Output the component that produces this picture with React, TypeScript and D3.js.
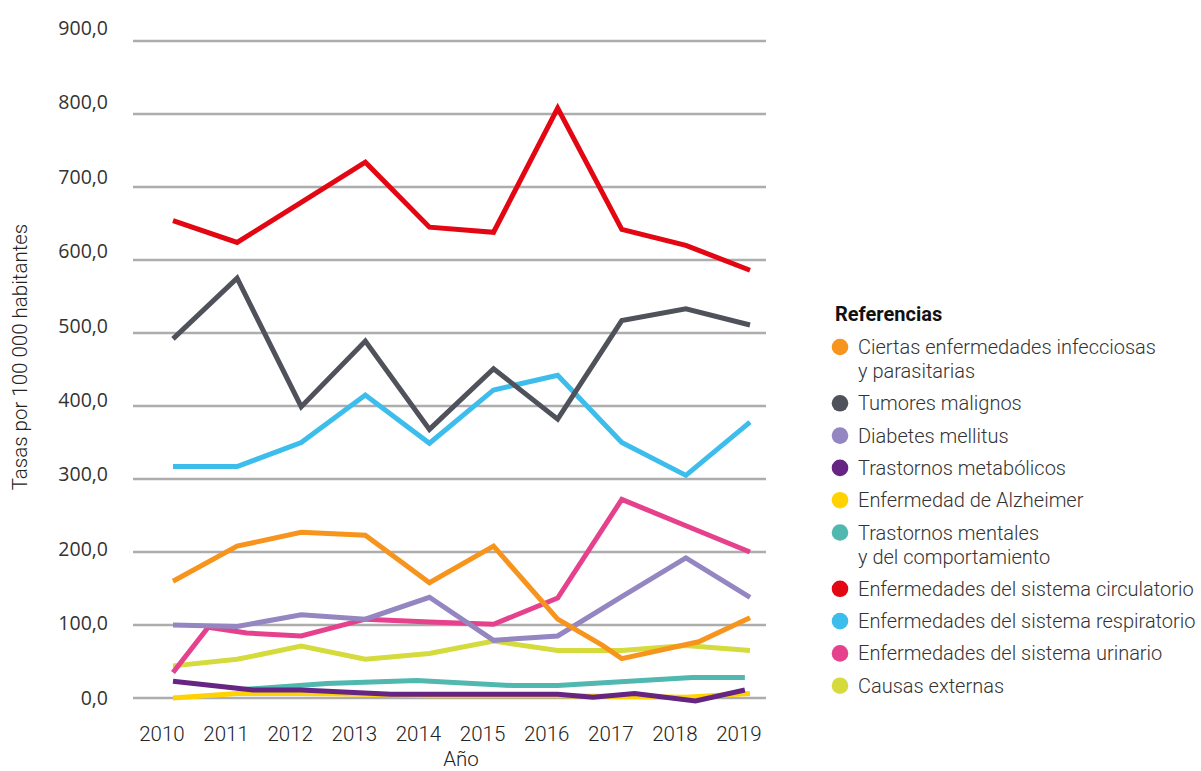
import React from "react";
import * as d3 from "d3";

const years = [2010, 2011, 2012, 2013, 2014, 2015, 2016, 2017, 2018, 2019];
const yTicks = [0, 100, 200, 300, 400, 500, 600, 700, 800, 900];

// Series (x = year position as drawn, v = rate per 100 000)
const infecciosasX = [2010, 2011, 2012, 2013, 2014, 2015, 2016, 2016.7, 2017, 2018.2, 2019];
const infecciosasV = [160, 208, 227, 223, 158, 208, 108, 72, 54, 77, 110];
const tumoresV = [492, 575, 399, 489, 368, 451, 382, 517, 533, 511];
const diabetesV = [100, 98, 114, 108, 138, 79, 85, 139, 192, 138];
const metabolicosX = [2010, 2011.25, 2012, 2013.4, 2016, 2016.55, 2017.2, 2018.15, 2018.92];
const metabolicosV = [23, 11, 11, 5, 5, 1, 6, -4, 11];
const alzheimerV = [0, 6, 6, 5, 3, 3, 3, 2, 1, 6];
const mentalesX = [2011, 2012.4, 2013.8, 2015.3, 2016, 2018.1, 2018.92];
const mentalesV = [11, 20, 24, 17, 17, 28, 28];
const circulatorioV = [654, 624, 679, 734, 645, 638, 808, 642, 620, 586];
const respiratorioV = [317, 317, 350, 415, 349, 422, 442, 350, 305, 378];
const urinarioX = [2010, 2010.55, 2011.15, 2012, 2013, 2014, 2015, 2016, 2017, 2018, 2019];
const urinarioV = [35, 97, 89, 85, 108, 104, 101, 137, 272, 236, 200];
const externasV = [44, 53, 71, 53, 61, 78, 65, 65, 72, 65];

type Series = { label: string[]; color: string; xs: number[]; vs: number[] };

const series: Series[] = [
  { label: ["Ciertas enfermedades infecciosas", "y parasitarias"], color: "#F7941D", xs: infecciosasX, vs: infecciosasV },
  { label: ["Tumores malignos"], color: "#4F525B", xs: years, vs: tumoresV },
  { label: ["Diabetes mellitus"], color: "#9486C1", xs: years, vs: diabetesV },
  { label: ["Trastornos metabólicos"], color: "#662483", xs: metabolicosX, vs: metabolicosV },
  { label: ["Enfermedad de Alzheimer"], color: "#FFD200", xs: years, vs: alzheimerV },
  { label: ["Trastornos mentales", "y del comportamiento"], color: "#51B8AF", xs: mentalesX, vs: mentalesV },
  { label: ["Enfermedades del sistema circulatorio"], color: "#E30613", xs: years, vs: circulatorioV },
  { label: ["Enfermedades del sistema respiratorio"], color: "#3DBDEC", xs: years, vs: respiratorioV },
  { label: ["Enfermedades del sistema urinario"], color: "#E6418D", xs: urinarioX, vs: urinarioV },
  { label: ["Causas externas"], color: "#D5DB3D", xs: years, vs: externasV },
];

export default function App() {
  const W = 1201, H = 771;
  const x = d3.scaleLinear().domain([2010, 2019]).range([173, 750]);
  const y = d3.scaleLinear().domain([0, 900]).range([698, 41]);
  const line = d3.line<[number, number]>().x((d) => x(d[0])).y((d) => y(d[1]));
  const drawOrder = [...series].reverse();

  // legend layout
  const legendX = 840;
  let ly = 347;
  const legendRows: { s: Series; y: number }[] = [];
  series.forEach((s) => {
    legendRows.push({ s, y: ly });
    ly += 32.3 + (s.label.length - 1) * 24;
  });

  return (
    <svg width={W} height={H} style={{ position: "absolute", left: 0, top: 0, background: "#fff" }}>
      <g>
        {yTicks.map((t) => (
          <line key={t} x1={133} x2={766} y1={y(t)} y2={y(t)} stroke="#ADADAD" strokeWidth={2.5} />
        ))}
        {yTicks.map((t) => (
          <text
            key={"l" + t}
            x={108}
            y={y(t) - (t / 900) * 13}
            dy="0.35em"
            textAnchor="end"
            fontFamily="'Open Sans', sans-serif"
            fontSize={19.5}
            fill="#333"
          >
            {d3.format(".1f")(t).replace(".", ",")}
          </text>
        ))}
      </g>
      <g fill="none" strokeWidth={5} strokeLinejoin="miter" strokeLinecap="butt">
        {drawOrder.map((s, i) => (
          <path key={i} d={line(s.xs.map((xx, j) => [xx, s.vs[j]] as [number, number])) || ""} stroke={s.color} />
        ))}
      </g>
      <g fontFamily="Roboto, sans-serif" fontSize={20.5} fill="#222" fontWeight={300}>
        {years.map((yr) => (
          <text key={yr} x={x(yr) - 11} y={741} textAnchor="middle">
            {yr}
          </text>
        ))}
        <text x={461} y={766} textAnchor="middle">Año</text>
        <text transform="translate(27,357) rotate(-90)" textAnchor="middle">
          Tasas por 100 000 habitantes
        </text>
      </g>
      <g fontFamily="Roboto, sans-serif">
        <text x={835} y={314} dy="0.35em" fontSize={20} fontWeight={700} fill="#111">
          Referencias
        </text>
        {legendRows.map(({ s, y: ry }, i) => (
          <g key={i}>
            <circle cx={legendX} cy={ry} r={8.3} fill={s.color} />
            {s.label.map((t, k) => (
              <text key={k} x={858} y={ry + k * 24} dy="0.35em" fontSize={20} fill="#333" fontWeight={300}>
                {t}
              </text>
            ))}
          </g>
        ))}
      </g>
    </svg>
  );
}
